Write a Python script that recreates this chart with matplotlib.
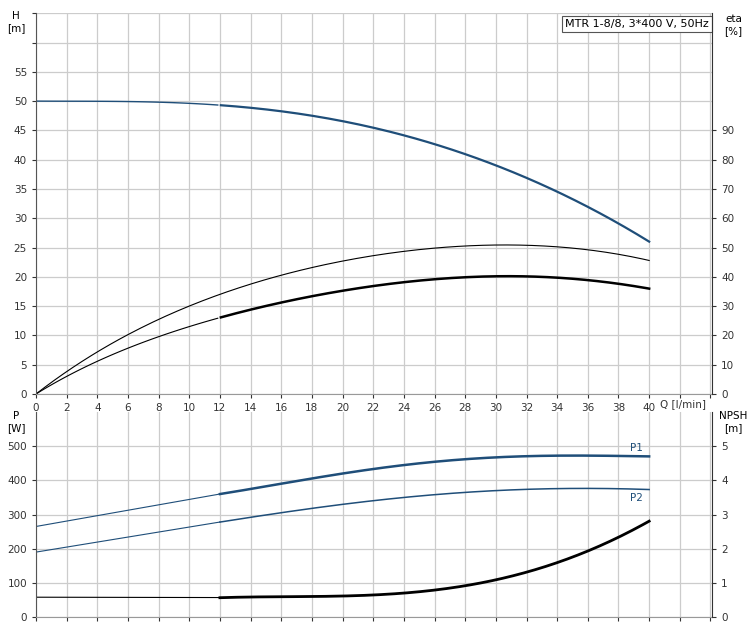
import matplotlib.pyplot as plt
import numpy as np

q = [0, 12, 16, 20, 24, 28, 32, 36, 40]
head = [50, 49.3, 48.3, 46.5, 44.2, 41.0, 36.8, 32.0, 26.0]
eta_total = [0, 34, 40.6, 45.4, 48.6, 50.6, 50.8, 49.2, 45.6]
eta_pump = [0, 26, 31.4, 35.2, 38.0, 40.0, 40.2, 38.8, 36.0]
p1 = [265, 360, 390, 420, 445, 462, 470, 473, 470]
p2 = [190, 278, 305, 330, 350, 365, 373, 377, 373]
npsh = [0.58, 0.57, 0.58, 0.62, 0.72, 0.90, 1.30, 1.95, 2.80]

blue = '#1f4e79'
grid_c = '#cccccc'


def smooth(x, y):
    xs = np.linspace(x[0], x[-1], 200)
    c = np.polyfit(x, y, 5)
    return xs, np.polyval(c, xs)


def split_plot(ax, x, y, color, lw_thin, lw_thick, linear_start=False):
    # thin part up to the second point, thick part after
    if linear_start:
        ax.plot(x[:2], y[:2], color=color, lw=lw_thin)
        xs = np.linspace(x[1], x[-1], 200)
        ys = np.polyval(np.polyfit(x[1:], y[1:], 4), xs)
        ax.plot(xs, ys, color=color, lw=lw_thick)
        return
    xs, ys = smooth(x, y)
    m = xs <= x[1]
    ax.plot(xs[m], ys[m], color=color, lw=lw_thin)
    ax.plot(xs[~m], ys[~m], color=color, lw=lw_thick)


fig = plt.figure(figsize=(7.54, 6.3), dpi=100)
ax1 = fig.add_axes([0.0477, 0.3746, 0.8966, 0.6044])
ax2 = fig.add_axes([0.0477, 0.0206, 0.8966, 0.3254])

for ax in (ax1, ax2):
    ax.set_xlim(0, 44.1)
    ax.set_xticks(np.arange(0, 45, 2))
    ax.grid(True, color=grid_c, lw=0.9)
    ax.set_axisbelow(True)
    for s in ('top', 'right'):
        ax.spines[s].set_visible(False)
    ax.spines['left'].set_color('#555555')
    ax.spines['bottom'].set_color('#999999')
    ax.tick_params(labelsize=7.5, length=3, colors='#333333')

# top panel
ax1.set_ylim(0, 65)
ax1.set_yticks(np.arange(0, 66, 5))
ax1.set_yticklabels([str(v) if v <= 55 else '' for v in range(0, 66, 5)])
ax1.set_xticklabels([str(v) if v <= 40 else '' for v in range(0, 45, 2)])
ax1.text(42.2, -0.9, 'Q [l/min]', fontsize=7.5, ha='center', va='top', color='#333333')
split_plot(ax1, q, head, blue, 1.0, 1.6)
xs, ys = smooth(q, eta_total)
ax1.plot(xs, np.array(ys) / 2, color='black', lw=0.8)
split_plot(ax1, q, np.array(eta_pump) / 2, 'black', 0.8, 1.8)
ax1.text(-1.3, 63.5, 'H\n[m]', fontsize=7.5, ha='center', va='center')
ax1r = ax1.twinx()
ax1r.set_ylim(0, 130)
ax1r.set_yticks(np.arange(0, 91, 10))
ax1r.tick_params(labelsize=7.5, length=3, colors='#333333')
ax1r.spines['right'].set_color('#333333')
for s in ('top', 'left', 'bottom'):
    ax1r.spines[s].set_visible(False)
ax1r.text(45.5, 126, 'eta\n[%]', fontsize=7.5, ha='center', va='center')
ax1.text(43.9, 64.0, 'MTR 1-8/8, 3*400 V, 50Hz', fontsize=8, ha='right', va='top',
         bbox=dict(boxstyle='square,pad=0.25', fc='white', ec='#555555', lw=0.8))

# bottom panel
ax2.set_ylim(0, 600)
ax2.set_yticks(np.arange(0, 501, 100))
ax2.set_xticklabels([])
split_plot(ax2, q, p1, blue, 0.8, 1.8, linear_start=True)
split_plot(ax2, q, p2, blue, 0.8, 1.1, linear_start=True)
split_plot(ax2, q, np.array(npsh) * 100, 'black', 0.8, 2.0, linear_start=True)
ax2.text(39.6, 480, 'P1', fontsize=7.5, color=blue, ha='right', va='bottom')
ax2.text(39.6, 362, 'P2', fontsize=7.5, color=blue, ha='right', va='top')
ax2.text(-1.3, 570, 'P\n[W]', fontsize=7.5, ha='center', va='center')
ax2r = ax2.twinx()
ax2r.set_ylim(0, 6)
ax2r.set_yticks(range(0, 6))
ax2r.tick_params(labelsize=7.5, length=3, colors='#333333')
ax2r.spines['right'].set_color('#333333')
for s in ('top', 'left', 'bottom'):
    ax2r.spines[s].set_visible(False)
ax2r.text(45.5, 5.7, 'NPSH\n[m]', fontsize=7.5, ha='center', va='center')

fig.savefig('out.png', dpi=100)
